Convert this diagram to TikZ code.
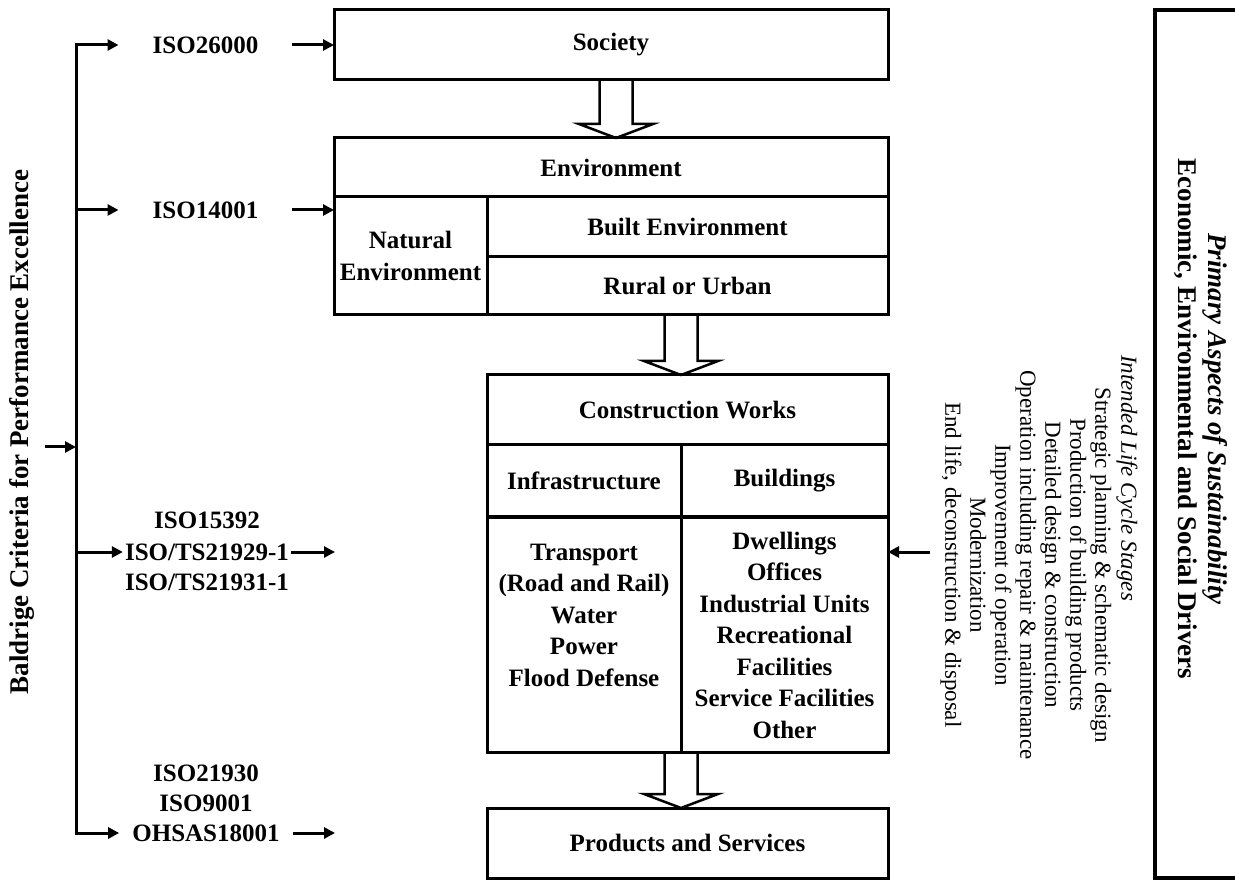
\documentclass[tikz,border=0pt]{standalone}
\usepackage{fontspec}
\setmainfont{Liberation Serif}
\usetikzlibrary{arrows.meta,calc}
\newcommand\hollowarrow[2]{\draw[hollow] ($(#1)+(-16.5,0)$) -- ($(#2)+(-16.5,-14)$) -- ($(#2)+(-37,-14)$) -- (#2) -- ($(#2)+(37,-14)$) -- ($(#2)+(16.5,-14)$) -- ($(#1)+(16.5,0)$);}
\begin{document}
\begin{tikzpicture}[x=1pt,y=-1pt,
  box/.style={draw,line width=3pt,rectangle,inner sep=0pt,outer sep=0pt,align=center,font=\bfseries\fontsize{25}{31.5}\selectfont},
  txt/.style={inner sep=0pt,align=center,font=\bfseries\fontsize{25}{31.5}\selectfont},
  lbl/.style={inner ysep=0pt,font=\bfseries\fontsize{25}{30}\selectfont},
  arr/.style={line width=3pt,-{Triangle[length=11pt,width=11pt]}},
  hollow/.style={line width=2.5pt,line join=miter},
]
\useasboundingbox (0,0) rectangle (1235,882);
\fill[white] (0,0) rectangle (1235,882);

% main boxes
\node[box,minimum width=554pt,minimum height=70pt] (soc) at (611,45) {Society};
\node[box,minimum width=554pt,minimum height=59pt] (envh) at (611,167.5) {Environment};
\node[box,minimum width=153pt,minimum height=118pt] (envn) at (410.5,256) {Natural\\Environment};
\node[box,minimum width=401pt,minimum height=60pt] (envb) at (687.5,227) {Built Environment};
\node[box,minimum width=401pt,minimum height=58pt] (envr) at (687.5,286) {Rural or Urban};

\node[box,minimum width=401pt,minimum height=70pt] (cwh) at (687.5,410) {Construction Works};
\node[box,minimum width=194pt,minimum height=72pt] (infra) at (584,481) {Infrastructure};
\node[box,minimum width=207pt,minimum height=72pt] (bldg) at (784.5,481) {Buildings};
\node[box,minimum width=194pt,minimum height=235pt] (infl) at (584,634.5) {};
\node[box,minimum width=207pt,minimum height=235pt] (bldgl) at (784.5,634.5) {};
\node[txt] (infltxt) at (584,615) {Transport\\(Road and Rail)\\Water\\Power\\Flood Defense};
\node[txt] (bldgltxt) at (784.5,635) {Dwellings\\Offices\\Industrial Units\\Recreational\\Facilities\\Service Facilities\\Other};
\node[box,minimum width=401pt,minimum height=70pt] (prod) at (687.5,843) {Products and Services};

% hollow arrows
\coordinate (h1a) at ([xshift=5pt]soc.south);
\coordinate (h1b) at ([xshift=5pt]envh.north);
\coordinate (h2a) at ([xshift=-6.5pt]envr.south);
\coordinate (h2b) at ([xshift=-6.5pt]cwh.north);
\coordinate (h3a) at (infl.south east);
\coordinate (h3b) at ([xshift=-6.5pt]prod.north);
\hollowarrow{h1a}{h1b}
\hollowarrow{h2a}{h2b}
\hollowarrow{h3a}{h3b}

% left standards
\node[rotate=90,inner sep=0pt,font=\bfseries\fontsize{27}{30}\selectfont] (bald) at (22,432) {Baldrige Criteria for Performance Excellence};
\coordinate (ttop) at (76,45);
\coordinate (tbot) at (76,833);
\coordinate (tin) at (45,447);
\coordinate (tjoin) at (76,447);
\draw[line width=3pt,line cap=rect] (ttop) -- (tbot);
\draw[arr] (tin) -- (tjoin);

\node[lbl,inner xsep=34pt] (iso1) at (205.5,45) {ISO26000};
\node[lbl,inner xsep=34pt] (iso2) at (205.5,210) {ISO14001};
\node[lbl] (iso3a) at (207,520) {ISO15392};
\node[lbl,inner xsep=2pt] (iso3b) at (207,552) {ISO/TS21929-1};
\node[lbl] (iso3c) at (207,582) {ISO/TS21931-1};
\node[lbl] (iso4a) at (206,773) {ISO21930};
\node[lbl] (iso4b) at (206,803) {ISO9001};
\node[lbl,inner xsep=13pt] (iso4c) at (206,833) {OHSAS18001};

\draw[arr] (ttop) -- (iso1.west);
\draw[arr] (iso1.east) -- (soc.west);
\draw[arr] (ttop |- iso2.west) -- (iso2.west);
\draw[arr] (iso2.east) -- (iso2.east -| envn.west);
\coordinate (iso3end) at (335,552);
\draw[arr] (ttop |- iso3b.west) -- (iso3b.west);
\draw[arr] (iso3b.east) -- (iso3end);
\coordinate (iso4end) at (335,833);
\draw[arr] (tbot) -- (iso4c.west);
\draw[arr] (iso4c.east) -- (iso4end);

% right side
\draw[line width=3.5pt] (1245,10) -- (1155,10) -- (1155,878) -- (1245,878);
\node[rotate=-90,align=center,inner sep=0pt,font=\bfseries\fontsize{27}{30}\selectfont] (drv) at (1201,419) {\textit{Primary Aspects of Sustainability}\\Economic, Environmental and Social Drivers};
\node[rotate=-90,inner sep=0pt,font=\itshape\fontsize{23}{25}\selectfont] (lcst) at (1127,478) {Intended Life Cycle Stages};
\node[rotate=-90,align=center,inner sep=0pt,font=\fontsize{23}{25}\selectfont] (lcs) at (1026,565) {Strategic planning \& schematic design\\Production of building products\\Detailed design \& construction\\Operation including repair \& maintenance\\Improvement of operation\\Modernization\\End life, deconstruction \& disposal};
\coordinate (lcin) at (930,552);
\draw[arr] (lcin) -- (lcin -| bldgl.east);
\end{tikzpicture}
\end{document}
